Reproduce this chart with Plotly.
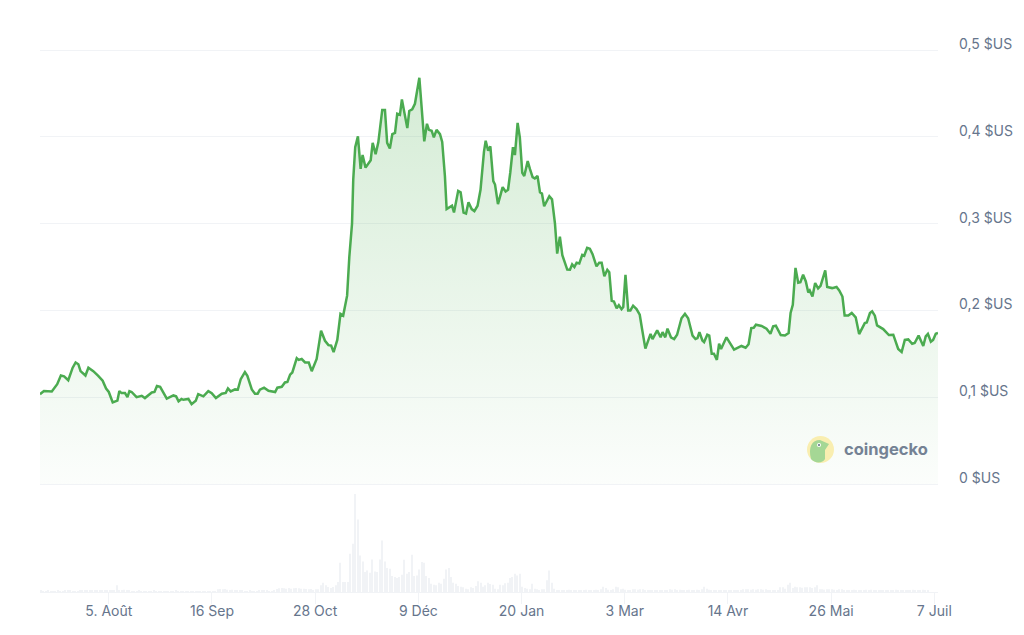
import plotly.graph_objects as go

# Days since 8 Jul 2022
days = [0,1.6,4.8,7,8.5,9.8,11.5,13.3,14.5,15.6,16.5,18.5,19.7,21.7,23.7,25.5,26.9,28,29.6,31.5,32.3,33.2,34.6,35.6,36.4,37.3,39.3,41.4,42.7,45.5,46.6,47.6,48.9,51.6,54.3,55.4,56.4,57.6,58.3,60.4,61.7,63.4,64.4,66.5,68.5,69.9,71.6,74,75.6,76.5,77.6,79.4,80.5,81.7,83.4,84.4,86.2,87.5,88.6,89.5,91.2,93,95.7,96.6,98.4,99.7,100.7,101.8,102.7,104.5,105.3,106.5,107.9,109.4,110.6,112.6,114.4,116,117.4,118.5,119.5,121,122.3,123.4,125,125.9,127,127.5,128.3,129.4,130.5,131.3,132.5,134.6,135.4,136.6,137.7,139.3,140.4,141.3,142.4,143.4,144.5,145.4,146.5,147.3,149.5,150.3,151.5,152.6,154.4,155.6,156.4,157.5,158.3,159.4,160.3,161.4,162.8,163.7,164.8,165.5,166.8,167.7,168.5,170.2,171.2,172.4,173.4,174.4,175.7,176.8,178.1,179.3,180.7,181.4,182.4,183.3,184.5,185.2,186.4,188.3,189.5,190.5,191.4,192.5,193.3,194.4,195.3,196.3,197.1,198.5,199.4,200.5,201.4,202.5,203.5,204.3,205.2,207.3,208.4,209.6,210.5,211.6,212.6,214.6,215.7,216.6,217.5,218.4,219.5,220.7,221.5,222.7,223.8,224.9,226.5,227.6,228.6,229.7,230.9,231.7,232.7,233.6,234.7,235.6,236.7,237.4,238.3,239.4,240.3,241.4,242.8,244.1,245.1,246.4,248.5,249.3,251.2,252.6,253.4,254.5,255.4,256.8,258.1,259.3,261.1,262.5,263.8,265.6,266.8,267.6,268.4,269.6,270.3,271.6,272.4,273.4,274.3,275.5,276.4,277.2,279.4,282.5,285.5,287.2,288.4,289.5,290.5,291.4,293.7,295.7,297.3,298.4,299.5,301.5,303.2,304.7,305.5,306.4,307.5,308.6,309.5,310.6,311.7,312.7,313.3,314.4,315.5,316.7,317.7,319.6,320.4,322.4,324.2,325.3,326.6,327.5,329,330.4,332,333.4,335.7,336.5,337.8,338.7,339.8,340.7,343.2,345.5,347.3,349.3,350.7,352,353.4,355,356,357.6,359.5,360.5,361.4,362.6,363.5,364.6,365.5]
prices = [.1035,.107,.1066,.115,.125,.124,.1195,.134,.14,.138,.13,.125,.134,.13,.1246,.119,.11,.106,.094,.096,.107,.1047,.1047,.1,.107,.106,.1,.1016,.099,.1055,.106,.113,.112,.0984,.102,.101,.0953,.098,.097,.098,.092,.096,.1035,.101,.107,.1047,.099,.104,.105,.11,.1066,.109,.1086,.1207,.129,.1246,.109,.104,.104,.1086,.111,.1074,.106,.111,.112,.117,.1176,.126,.1285,.145,.143,.144,.14,.14,.13,.144,.1766,.165,.16,.1594,.152,.166,.196,.194,.217,.2616,.3,.351,.388,.4006,.363,.379,.3645,.373,.393,.38,.3936,.431,.431,.393,.3866,.403,.4045,.4266,.4254,.443,.41,.4297,.4316,.438,.468,.4247,.3948,.415,.408,.407,.3994,.408,.403,.394,.355,.3167,.319,.3206,.3128,.3377,.336,.3128,.3117,.3245,.3167,.3144,.3206,.339,.3827,.3955,.384,.389,.349,.345,.3225,.342,.337,.339,.3586,.388,.379,.416,.3994,.3586,.3548,.372,.363,.3536,.352,.3548,.336,.3346,.32,.3315,.328,.3,.2654,.285,.2635,.247,.2468,.253,.25,.255,.254,.264,.263,.272,.271,.2647,.2507,.255,.255,.2394,.2468,.244,.211,.2103,.2025,.206,.2014,.204,.241,.2,.2,.2054,.2015,.195,.1777,.156,.173,.167,.177,.169,.175,.169,.179,.169,.167,.172,.191,.196,.191,.171,.167,.168,.175,.1654,.1635,.172,.171,.15,.15,.143,.1616,.1555,.169,.1547,.159,.157,.161,.1796,.18,.1835,.182,.179,.173,.1816,.1823,.1716,.171,.174,.197,.2065,.249,.232,.2326,.241,.2334,.2207,.223,.216,.2315,.2253,.2284,.246,.227,.2257,.227,.223,.216,.194,.194,.197,.192,.1727,.1854,.186,.197,.199,.194,.1827,.1785,.1716,.172,.1555,.152,.166,.1666,.1616,.1624,.171,.159,.17,.173,.164,.166,.173,.174]

# Daily traded volume, relative units
volumes = [4,3,3,4,3,3,3,4,3,3,5,5,4,3,3,3,4,6,5,4,5,6,5,6,4,5,6,5,4,4,5,20,6,5,7,5,4,3,3,3,4,3,3,3,3,3,4,3,3,3,3,3,3,3,3,4,3,3,3,3,3,3,3,3,3,3,3,3,3,3,3,3,8,9,8,9,7,6,7,5,4,5,4,3,3,4,3,3,3,4,4,5,4,3,3,4,9,11,12,11,10,12,10,11,12,11,10,10,9,8,9,6,8,8,
           20,28,20,15,12,15,20,30,88,30,30,30,115,145,295,218,110,92,60,65,58,98,62,60,98,155,92,72,70,48,45,42,45,52,97,55,60,112,48,50,68,90,88,48,42,25,22,20,28,25,40,68,72,45,28,25,18,16,14,10,8,14,12,18,32,28,16,20,28,24,22,10,8,22,20,26,28,42,45,55,50,55,
           16,12,10,8,25,10,8,6,8,8,
           35,65,28,10,6,5,6,5,6,7,
           6,5,5,6,5,5,7,6,5,6,
           7,6,8,16,12,7,6,8,16,14,
           8,10,7,6,6,8,8,7,8,8,
           6,5,6,5,4,5,4,5,6,5,
           8,7,8,6,7,5,6,5,7,6,
           5,7,6,8,16,10,7,5,4,4,
           5,4,5,4,4,4,5,4,5,5,
           8,8,8,7,8,7,8,8,7,8,
           6,5,4,5,5,14,14,10,22,28,
           12,16,14,14,13,14,14,14,12,14,
           20,8,8,7,8,8,8,7,6,8,
           8,5,4,6,5,7,5,6,5,6,
           7,6,7,6,5,4,5,6,5,6,
           5,6,7,6,5,5,6,5,6,7,
           6,5,6,7,6,5]
volume_days = [i + 0.3 for i in range(len(volumes))]

tick_days = [28,70,112,154,196,238,280,322,364]
tick_labels = ["5. Août","16 Sep","28 Oct","9 Déc","20 Jan","3 Mar","14 Avr","26 Mai","7 Juil"]
price_ticks = [0,0.1,0.2,0.3,0.4,0.5]
price_labels = ["0 $US","0,1 $US","0,2 $US","0,3 $US","0,4 $US","0,5 $US"]

PAGE = 8                       # default body margin of the written page
W, H = 1024 - PAGE, 635 - PAGE
L, R, T, B = 40, 938, 30, 592  # plot area, in window pixels
Y0, PX_PER_UNIT = 484, 868
def px(x): return (x - L) / (R - L)
def py(y): return (B - y) / (B - T)

GRID = "#f1f3f6"
TEXT = "#66758c"

fig = go.Figure()
fig.add_trace(go.Bar(x=volume_days, y=volumes, yaxis="y2",
                     marker=dict(color="#f1f3f6", line_width=0), width=0.42,
                     hoverinfo="skip", showlegend=False))
fig.add_trace(go.Scatter(x=days, y=prices, mode="lines",
                         line=dict(color="#4bab50", width=2.5), fill="tozeroy",
                         fillgradient=dict(type="vertical",
                                           colorscale=[[0, "rgba(76,175,80,0.02)"], [1, "rgba(76,175,80,0.24)"]],
                                           start=0, stop=0.47),
                         showlegend=False))

fig.update_layout(
    width=W, height=H, autosize=False,
    margin=dict(l=L - PAGE, r=W - (R - PAGE), t=T - PAGE, b=H - (B - PAGE), pad=0),
    paper_bgcolor="white", plot_bgcolor="white",
    font=dict(family="Inter", size=14, color=TEXT),
    xaxis=dict(range=[0, 365.5], anchor="y2", tickmode="array", tickvals=tick_days, ticktext=tick_labels,
               ticks="outside", ticklen=11, tickcolor=GRID, tickwidth=1, showgrid=False,
               showline=True, linecolor=GRID, zeroline=False, ticklabelstandoff=-5),
    yaxis=dict(domain=[py(Y0), 1], range=[0, (Y0 - T) / PX_PER_UNIT], side="right", anchor="x", tickmode="array",
               tickvals=price_ticks, ticktext=price_labels, gridcolor=GRID, gridwidth=1,
               zeroline=True, zerolinecolor=GRID, zerolinewidth=1, showline=False, ticks="",
               ticklabelstandoff=20, ticklabelshift=-6),
    yaxis2=dict(domain=[0, py(494)], range=[0, 295], visible=False),
    shapes=[
        dict(type="circle", xref="paper", yref="paper", x0=px(807), x1=px(834), y0=py(463), y1=py(436),
             fillcolor="#f9eeb0", line_width=0, layer="above"),
        dict(type="path", xref="paper", yref="paper", layer="above", fillcolor="#a5d795", line_width=0,
             path="M {} {} C {} {} {} {} {} {} L {} {} L {} {} L {} {} C {} {} {} {} {} {} Z".format(
                 px(811), py(459), px(808), py(447), px(812), py(440), px(820), py(440),
                 px(829), py(444), px(825), py(450), px(825), py(459),
                 px(823), py(463), px(815), py(464), px(811), py(459))),
        dict(type="circle", xref="paper", yref="paper", x0=px(817), x1=px(821), y0=py(447), y1=py(443),
             fillcolor="#ffffff", line_width=0, layer="above"),
        dict(type="circle", xref="paper", yref="paper", x0=px(818), x1=px(820), y0=py(446), y1=py(444),
             fillcolor="#5b6b7c", line_width=0, layer="above"),
    ],
    annotations=[dict(text="<b>coingecko</b>", xref="paper", yref="paper", x=px(842), y=py(449),
                      xanchor="left", yanchor="middle", showarrow=False,
                      font=dict(family="Inter", size=16.5, color="#748294"))],
)
fig.write_html("out.html")
